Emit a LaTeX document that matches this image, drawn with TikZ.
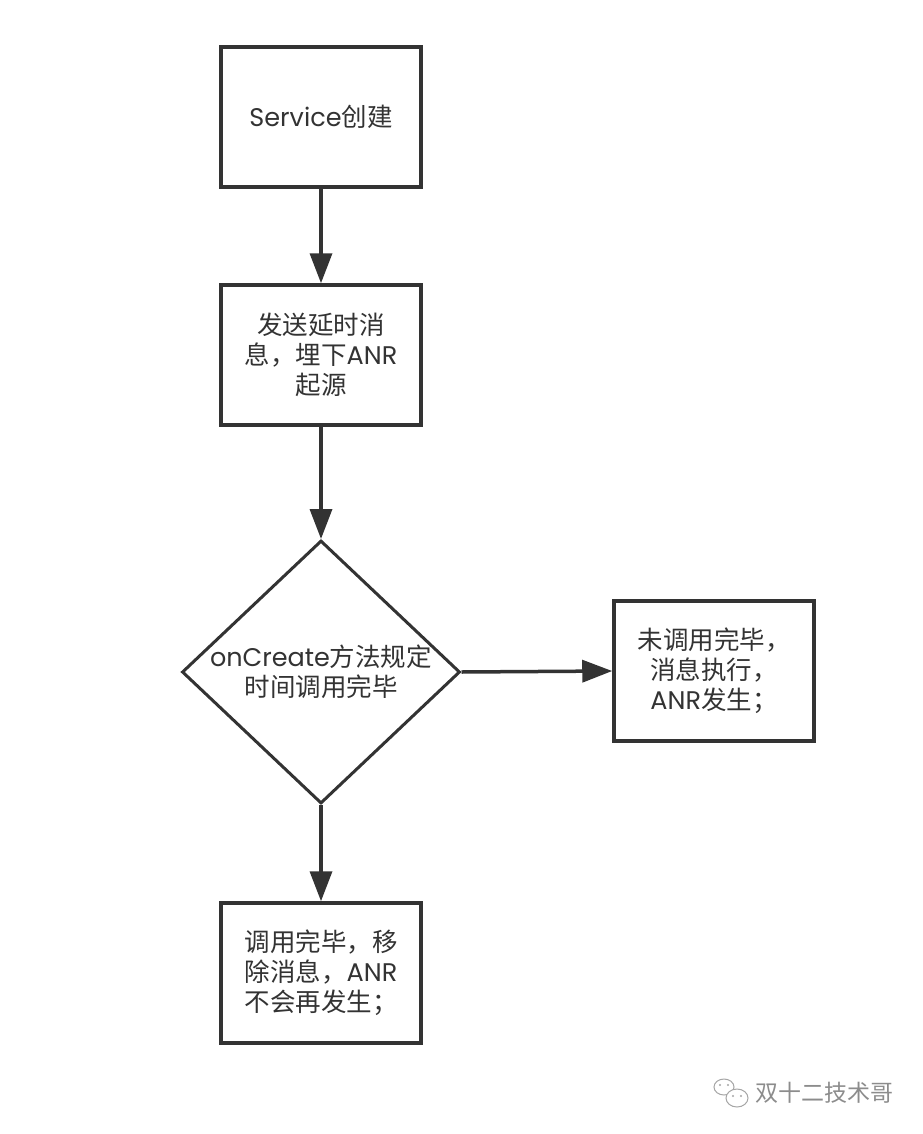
\documentclass[tikz,border=0pt]{standalone}
\usepackage{fontspec}
\setmainfont{Poppins}
\newfontfamily\cjk{Noto Sans CJK SC}
\usetikzlibrary{shapes.geometric,arrows.meta}
\definecolor{ink}{HTML}{333333}
\begin{document}
\begin{tikzpicture}[x=1pt,y=-1pt,
  box/.style={draw=ink,line width=3.5pt,minimum width=200pt,minimum height=140pt,inner sep=0pt},
  txt/.style={text=ink,font=\fontsize{25.5}{30}\selectfont,align=center},
  flow/.style={draw=ink,line width=3.5pt,-{Triangle[length=30pt,width=22pt]}},
  wm/.style={text=black!45,font=\cjk\fontsize{23}{28}\selectfont}]
\path[fill=white,use as bounding box] (0,0) rectangle (922,1134);
\node[box] (b1) at (321,117) {};
\node[txt] (t1) at (b1.center) {Service{\cjk 创建}};
\node[box] (b2) at (321,355) {};
\node[txt] (t2) at (b2.center) {{\cjk 发送延时消}\\{\cjk 息，埋下}ANR\\{\cjk 起源}};
\node[diamond,draw=ink,line width=3pt,minimum width=278pt,minimum height=263pt,inner sep=0pt] (d) at (321,672) {};
\node[txt] (td) at (321,672) {onCreate{\cjk 方法规定}\\{\cjk 时间调用完毕}};
\node[box] (b3) at (714,671) {};
\node[txt] (t3) at (b3.center) {{\cjk 未调用完毕，}\\{\cjk 消息执行，}\\ANR{\cjk 发生；}};
\node[box] (b4) at (321,973) {};
\node[txt] (t4) at (b4.center) {{\cjk 调用完毕，移}\\{\cjk 除消息，}ANR\\{\cjk 不会再发生；}};
\draw[flow] (b1.south) -- (b2.north);
\draw[flow] (b2.south) -- (d.north);
\draw[flow] (d.east) -- (b3.west);
\draw[flow] (d.south) -- (b4.north);
% watermark
\node[wm,anchor=west] (wmt) at (752,1093) {双十二技术哥};
\draw[black!35,line width=1pt] (724,1087) ellipse (10pt and 8pt);
\draw[black!35,line width=1pt,fill=white] (737,1098) ellipse (11pt and 9pt);
\fill[black!35] (720,1085) circle (1.2pt) (728,1085) circle (1.2pt) (733,1096) circle (1.2pt) (741,1096) circle (1.2pt);
\end{tikzpicture}
\end{document}
